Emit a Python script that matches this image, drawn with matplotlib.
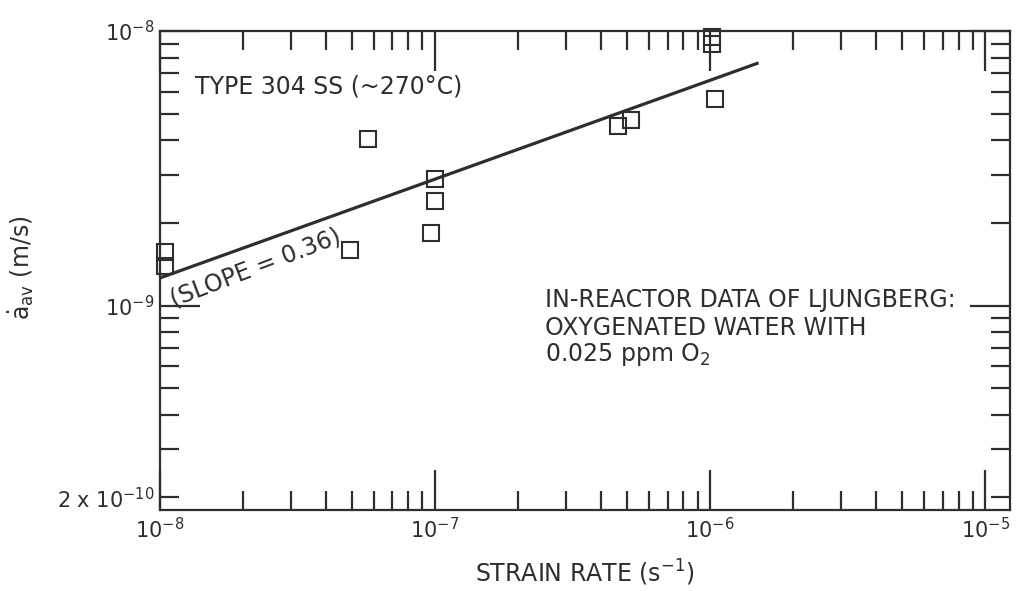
import matplotlib
matplotlib.use("Agg")
import matplotlib.pyplot as plt

# Measured crack growth rates (Ljungberg, in-reactor, oxygenated water)
strain_rate = [1.04e-8, 1.04e-8, 4.9e-8, 5.7e-8, 1.0e-7, 1.0e-7, 0.97e-7,
               4.64e-7, 5.16e-7, 1.02e-6, 1.02e-6, 1.04e-6]
crack_rate = [1.57e-9, 1.39e-9, 1.59e-9, 4.04e-9, 2.88e-9, 2.41e-9, 1.83e-9,
              4.52e-9, 4.75e-9, 9.5e-9, 9.0e-9, 5.67e-9]

# Power-law fit through the data
fit_slope = 0.36
fit_x = [1.0e-8, 1.5e-6]
fit_y_at_1e8 = 1.26e-9

x_major = [1e-8, 1e-7, 1e-6, 1e-5]
x_major_labels = [r"$10^{-8}$", r"$10^{-7}$", r"$10^{-6}$", r"$10^{-5}$"]
y_major = [1e-9, 1e-8]
y_major_labels = [r"$10^{-9}$", r"$10^{-8}$"]

ink = "#2e2e2e"
fs_tick = 15
fs = 17

fig = plt.figure(figsize=(10.19, 5.91), dpi=100)
ax = fig.add_axes([0.1570, 0.1371, 0.8341, 0.8105])
ax.set_xscale("log")
ax.set_yscale("log")
ax.set_xlim(1e-8, 1.23e-5)
ax.set_ylim(1.8e-10, 1e-8)

# ticks
x_minor = [k * 10.0 ** e for e in (-8, -7, -6) for k in range(2, 10)]
y_minor = [k * 10.0 ** e for e in (-10, -9) for k in range(2, 10)]
y_minor_labels = ["2 x 10$^{-10}$" if abs(v - 2e-10) < 1e-13 else "" for v in y_minor]

ax.set_xticks(x_major, x_major_labels)
ax.set_xticks(x_minor, [""] * len(x_minor), minor=True)
ax.set_yticks(y_major, y_major_labels)
ax.set_yticks(y_minor, y_minor_labels, minor=True)

ax.tick_params(which="both", direction="in", top=True, right=True,
               color=ink, width=1.6, labelsize=fs_tick, labelcolor=ink)
ax.tick_params(which="major", length=29)
ax.tick_params(which="minor", length=14)
ax.tick_params(axis="x", which="both", pad=5)
ax.tick_params(axis="y", which="both", pad=4)

for sp in ax.spines.values():
    sp.set_linewidth(1.6)
    sp.set_color(ink)

# fit line
fit_y = [fit_y_at_1e8 * (x / 1e-8) ** fit_slope for x in fit_x]
ax.plot(fit_x, fit_y, color=ink, lw=2.3, solid_capstyle="butt", zorder=3)

# data points
ax.plot(strain_rate, crack_rate, linestyle="none", marker="s", ms=11.5,
        mfc="none", mec=ink, mew=1.5, clip_on=False, zorder=4)

# annotations
ax.text(0.041, 0.885, "TYPE 304 SS (~270°C)", transform=ax.transAxes,
        fontsize=fs, color=ink, va="center", ha="left")
ax.text(2.22e-8, 1.37e-9, "(SLOPE = 0.36)", fontsize=fs, color=ink,
        rotation=21, rotation_mode="anchor", ha="center", va="center")
ax.text(0.453, 0.438, "IN-REACTOR DATA OF LJUNGBERG:", transform=ax.transAxes,
        fontsize=fs, color=ink, va="center", ha="left")
ax.text(0.453, 0.380, "OXYGENATED WATER WITH", transform=ax.transAxes,
        fontsize=fs, color=ink, va="center", ha="left")
ax.text(0.453, 0.3236, r"0.025 ppm O$_2$", transform=ax.transAxes,
        fontsize=fs, color=ink, va="center", ha="left")

ax.set_xlabel("STRAIN RATE (s$^{-1}$)", fontsize=fs, color=ink, labelpad=11)
fig.text(0.0206, 1 - 268 / 591, r"$\dot{\mathrm{a}}_{\mathrm{av}}$ (m/s)",
         rotation=90, fontsize=fs, color=ink, ha="center", va="center")

fig.savefig("out.png", dpi=100, facecolor="white")
